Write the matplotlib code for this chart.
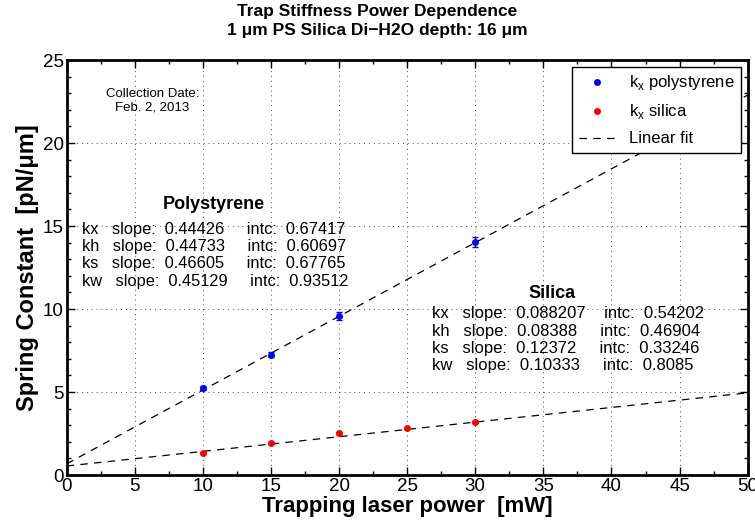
import matplotlib
matplotlib.use("Agg")
import matplotlib.pyplot as plt
import numpy as np
from matplotlib.ticker import MultipleLocator
from matplotlib.lines import Line2D

plt.rcParams['font.family'] = ['Liberation Sans', 'DejaVu Sans']
plt.rcParams['mathtext.fontset'] = 'custom'
plt.rcParams['mathtext.rm'] = 'Liberation Sans'

# measured spring constants
power_ps = [10, 15, 20, 30]
k_ps = [5.25, 7.25, 9.6, 14.05]
err_ps = [0.12, 0.15, 0.25, 0.3]

power_si = [10, 15, 20, 25, 30]
k_si = [1.35, 1.95, 2.52, 2.85, 3.18]
err_si = [0.06, 0.06, 0.08, 0.06, 0.06]

# linear fit results (kx)
fit_ps = (0.44426, 0.67417)
fit_si = (0.088207, 0.54202)

xticks = [0, 5, 10, 15, 20, 25, 30, 35, 40, 45, 50]
yticks = [0, 5, 10, 15, 20, 25]

ps_rows = ["kx   slope:  0.44426     intc:  0.67417",
           "kh   slope:  0.44733     intc:  0.60697",
           "ks   slope:  0.46605     intc:  0.67765",
           "kw   slope:  0.45129     intc:  0.93512"]
si_rows = ["kx   slope:  0.088207    intc:  0.54202",
           "kh   slope:  0.08388     intc:  0.46904",
           "ks   slope:  0.12372     intc:  0.33246",
           "kw   slope:  0.10333     intc:  0.8085"]

fig = plt.figure(figsize=(7.55, 5.25), dpi=100)
ax = fig.add_axes([0.0883, 0.0952, 0.902, 0.7905])

xx = np.array([0, 50])
ax.errorbar(power_ps, k_ps, yerr=err_ps, fmt='o', color='blue', ms=4,
            capsize=2, elinewidth=1, zorder=3)
ax.errorbar(power_si, k_si, yerr=err_si, fmt='o', color='red', ms=4,
            capsize=2, elinewidth=1, zorder=3)
ax.plot(xx, fit_ps[0]*xx + fit_ps[1], 'k--', lw=0.9, dashes=(6, 5))
ax.plot(xx, fit_si[0]*xx + fit_si[1], 'k--', lw=0.9, dashes=(6, 5))

ax.set_xlim(0, 50)
ax.set_ylim(0, 25)
ax.set_xticks(xticks, [str(t) for t in xticks], fontsize=13.5)
ax.set_yticks(yticks, [str(t) for t in yticks], fontsize=13.5)
ax.xaxis.set_minor_locator(MultipleLocator(2.5))
ax.yaxis.set_minor_locator(MultipleLocator(1))
ax.tick_params(which='both', direction='in', top=True, right=True, pad=2)
ax.tick_params(which='major', length=6, width=1)
ax.tick_params(which='minor', length=3, width=1)
ax.grid(True, which='major', linestyle=(0, (1, 4)), color='black', lw=0.7, alpha=0.7)
for s in ax.spines.values():
    s.set_linewidth(2)

ax.set_xlabel('Trapping laser power  [mW]', fontsize=16, fontweight='bold', labelpad=1)
ax.set_ylabel('Spring Constant  [pN/\u03bcm]', fontsize=17, fontweight='bold', labelpad=3)
fig.text(0.5, 0.992, 'Trap Stiffness Power Dependence\n1 \u03bcm PS Silica Di\u2212H2O depth: 16 \u03bcm',
         ha='center', va='top', fontsize=12.5, fontweight='bold', linespacing=1.3)

ax.text(6.3, 22.55, 'Collection Date:\nFeb. 2, 2013', ha='center', va='center', fontsize=9.5)

ax.text(10.8, 16.3, 'Polystyrene', ha='center', va='center', fontsize=13, fontweight='bold')
for i, r in enumerate(ps_rows):
    ax.text(1.1, 14.8 - i*1.04, r, ha='left', va='center', fontsize=11.8)

ax.text(35.6, 10.96, 'Silica', ha='center', va='center', fontsize=13, fontweight='bold')
for i, r in enumerate(si_rows):
    ax.text(26.8, 9.7 - i*1.04, r, ha='left', va='center', fontsize=12)

handles = [Line2D([], [], ls='none', marker='o', color='blue', ms=4),
           Line2D([], [], ls='none', marker='o', color='red', ms=4),
           Line2D([], [], ls='--', dashes=(6, 5), color='black', lw=0.9)]
labels = [r'k$_{\rm x}$ polystyrene', r'k$_{\rm x}$ silica', 'Linear fit']
leg = ax.legend(handles, labels, loc='upper right', fontsize=12, frameon=True, fancybox=False,
                edgecolor='black', borderaxespad=0.4, handlelength=2.2, labelspacing=0.6,
                borderpad=0.4, framealpha=1)
leg.get_frame().set_linewidth(1)

fig.savefig('out.png', dpi=100)
